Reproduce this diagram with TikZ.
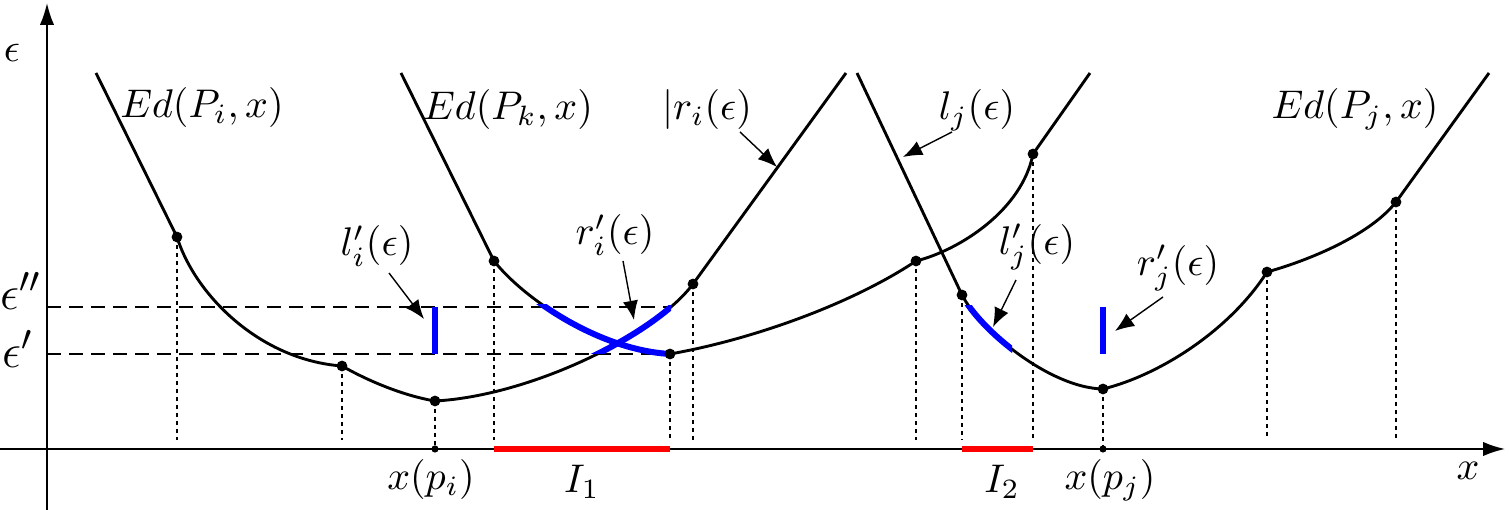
\documentclass[tikz,border=0pt]{standalone}
\usetikzlibrary{arrows.meta}
\begin{document}
\begin{tikzpicture}[x=0.25pt,y=-0.25pt,
  curve/.style={line width=0.72pt},
  ax/.style={line width=0.45pt},
  guide/.style={line width=0.4pt, dash pattern=on 1pt off 1pt},
  level/.style={line width=0.4pt, dash pattern=on 3.5pt off 2pt},
  hl/.style={blue, line width=1.5pt},
  ivl/.style={red, line width=1.4pt},
  ptr/.style={line width=0.35pt, -{Latex[length=4.8pt,width=3.8pt]}},
  lbl/.style={inner sep=0pt, font=\fontsize{10.4}{12}\selectfont},
  biglbl/.style={inner sep=0pt, font=\fontsize{12.5}{14}\selectfont},
  dot/.style={circle, fill, inner sep=0pt, minimum size=2.7pt},
  adot/.style={circle, fill, inner sep=0pt, minimum size=1.8pt}]
\useasboundingbox (0,0) rectangle (1509,510);

% key points
\coordinate (i0) at (96,73);   \coordinate (i1) at (177,237); \coordinate (i2) at (342,366);
\coordinate (i3) at (435,401); \coordinate (i4) at (693,284); \coordinate (i5) at (846,73);
\coordinate (k0) at (401,73);  \coordinate (k1) at (494,261); \coordinate (k2) at (670,354);
\coordinate (k3) at (916,261); \coordinate (k4) at (1033,154); \coordinate (k5) at (1090,73);
\coordinate (j0) at (857,73);  \coordinate (j1) at (962,295); \coordinate (j2) at (1103,389);
\coordinate (j3) at (1267,272); \coordinate (j4) at (1396,202); \coordinate (j5) at (1489,73);

\def\pathI{(i0) -- (i1) .. controls (195,295) and (260,360) .. (i2)
  .. controls (370,382) and (405,396) .. (i3)
  .. controls (530,396) and (655,335) .. (i4) -- (i5)}
\def\pathK{(k0) -- (k1) .. controls (525,300) and (600,350) .. (k2)
  .. controls (750,340) and (850,305) .. (k3)
  .. controls (960,250) and (1022,210) .. (k4) -- (k5)}
\def\pathJ{(j0) -- (j1) .. controls (980,330) and (1050,388) .. (j2)
  .. controls (1160,375) and (1230,330) .. (j3)
  .. controls (1310,260) and (1370,235) .. (j4) -- (j5)}

% epsilon levels
\coordinate (e2a) at (47,307); \coordinate (e2b) at (670,307);
\coordinate (e1a) at (47,354); \coordinate (e1b) at (670,354);
\draw[level] (e2a) -- (e2b);
\draw[level] (e1a) -- (e1b);

% vertical guides
\foreach \p in {i1,i2,i4,k1,k2,k3,k4,j1,j3,j4}{
  \draw[guide] (\p) -- (\p |- 0,440);
}
\draw[guide] (i3) -- (i3 |- 0,449);
\draw[guide] (j2) -- (j2 |- 0,449);

% axes
\coordinate (xo) at (0,449); \coordinate (xe) at (1505,449);
\coordinate (yo) at (47,510); \coordinate (ye) at (47,3);
\draw[ax,-{Latex[length=5.5pt,width=3.6pt]}] (xo) -- (xe);
\draw[ax,-{Latex[length=5.5pt,width=3.6pt]}] (yo) -- (ye);

% intervals
\draw[ivl] (k1 |- 0,449) -- (k2 |- 0,449);
\draw[ivl] (j1 |- 0,449) -- (k4 |- 0,449);

% curves
\draw[curve] \pathI;
\draw[curve] \pathK;
\draw[curve] \pathJ;

% highlighted parts
\begin{scope}
  \clip (560,306) rectangle (671,354);
  \draw[hl] \pathI;
\end{scope}
\begin{scope}
  \clip (530,305) rectangle (670,362);
  \draw[hl] \pathK;
\end{scope}
\begin{scope}
  \clip (950,306) rectangle (1012,360);
  \draw[hl] \pathJ;
\end{scope}
\coordinate (bi1) at (435,307); \coordinate (bi2) at (435,354);
\coordinate (bj1) at (1103,307); \coordinate (bj2) at (1103,354);
\draw[blue, line width=1.6pt] (bi1) -- (bi2);
\draw[blue, line width=1.6pt] (bj1) -- (bj2);

% dots
\foreach \p in {i1,i2,i3,i4,k1,k2,k3,k4,j1,j2,j3,j4}{
  \node[dot] at (\p) {};
}
\node[adot] (xpi) at (i3 |- 0,449) {};
\node[adot] (xpj) at (j2 |- 0,449) {};

% labels
\node[lbl] (leps) at (12,53) {$\epsilon$};
\node[biglbl] (lepss) at (21,291) {$\epsilon''$};
\node[biglbl] (leps1) at (18,349) {$\epsilon'$};
\node[lbl] (lEi) at (202,108) {$Ed(P_i,x)$};
\node[lbl] (lEk) at (508,110) {$Ed(P_k,x)$};
\node[lbl] (lEj) at (1355,109) {$Ed(P_j,x)$};
\node[lbl] (lri) at (707,110) {$|r_i(\epsilon)$};
\node[lbl] (llj) at (977,110) {$l_j(\epsilon)$};
\node[lbl] (llpi) at (377,246) {$l'_i(\epsilon)$};
\node[lbl] (lrpi) at (615,235) {$r'_i(\epsilon)$};
\node[lbl] (llpj) at (1037,247) {$l'_j(\epsilon)$};
\node[lbl] (lrpj) at (1178,268) {$r'_j(\epsilon)$};
\node[lbl] (lxpi) at (431,480) {$x(p_i)$};
\node[lbl] (lI1) at (582,482) {$I_1$};
\node[lbl] (lI2) at (1002,482) {$I_2$};
\node[lbl] (lxpj) at (1110,480) {$x(p_j)$};
\node[lbl] (lx) at (1468,471) {$x$};

% pointers
\coordinate (a1s) at (740,132);  \coordinate (a1e) at (777,167);
\coordinate (a2s) at (952,132);  \coordinate (a2e) at (903,157);
\coordinate (a3s) at (389,273);  \coordinate (a3e) at (424,319);
\coordinate (a4s) at (623,261);  \coordinate (a4e) at (634,320);
\coordinate (a5s) at (1016,280); \coordinate (a5e) at (993,327);
\coordinate (a6s) at (1163,297); \coordinate (a6e) at (1115,331);
\draw[ptr] (a1s) -- (a1e);
\draw[ptr] (a2s) -- (a2e);
\draw[ptr] (a3s) -- (a3e);
\draw[ptr] (a4s) -- (a4e);
\draw[ptr] (a5s) -- (a5e);
\draw[ptr] (a6s) -- (a6e);
\end{tikzpicture}
\end{document}
